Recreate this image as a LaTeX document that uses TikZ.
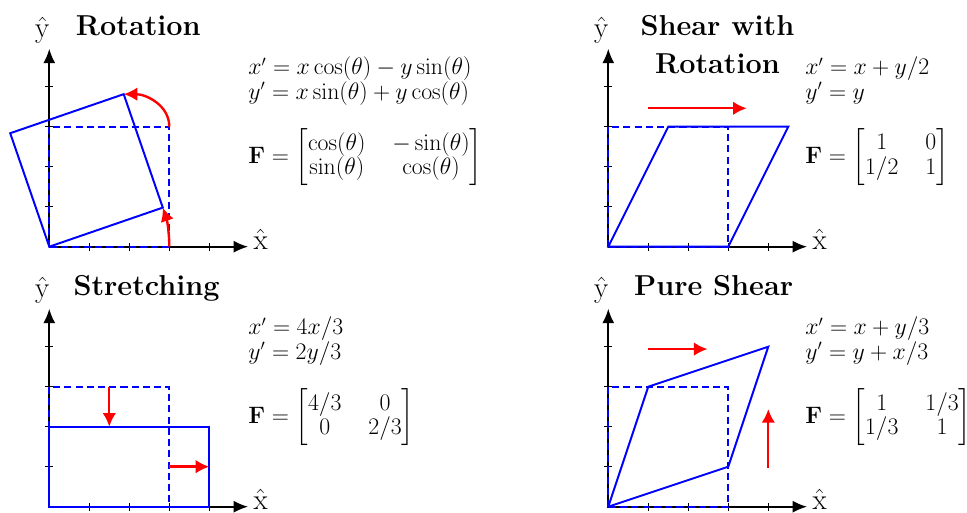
\documentclass[tikz,border=0pt]{standalone}
\usepackage{amsmath}
\usetikzlibrary{arrows.meta}
\tikzset{
  axisline/.style={line width=1.3pt, -{Latex[length=3.6mm,width=3mm]}},
  tickline/.style={line width=1.1pt},
  origsq/.style={blue, line width=1.4pt, dash pattern=on 5pt off 3pt},
  defsq/.style={blue, line width=1.4pt, line join=miter},
  motion/.style={red, line width=1.7pt, -{Latex[length=3.4mm,width=3.4mm]}},
  ttl/.style={font=\fontsize{20.5}{25}\bfseries\selectfont, inner sep=0pt, anchor=base west},
  ttlc/.style={font=\fontsize{20.5}{25}\bfseries\selectfont, inner sep=0pt, anchor=base},
  eqn/.style={font=\fontsize{16}{18}\selectfont, inner sep=0pt, anchor=base west},
  matn/.style={font=\fontsize{16}{17}\selectfont, inner sep=0pt, anchor=west},
  axlab/.style={font=\fontsize{20.5}{25}\selectfont, inner sep=0pt},
}
\newcommand{\shrk}[1]{\scalebox{0.978}{#1}}
\newcommand{\myaxes}[1]{%
  \draw[axisline] (0,0) -- (4.97,0);
  \draw[axisline] (0,0) -- (0,4.95);
  \foreach \t in {1,2,3,4} {
    \draw[tickline] (\t,-0.1) -- (\t,0.1);
    \draw[tickline] (-0.1,\t) -- (0.1,\t);
  }
  \node[axlab, anchor=base] (#1yl) at (-0.17,5.24) {$\hat{\mathrm{y}}$};
  \node[axlab, anchor=base west] (#1xl) at (5.1,-0.08) {$\hat{\mathrm{x}}$};
}
\begin{document}
\begin{tikzpicture}
\useasboundingbox (0,0) rectangle (24.175,12.825);

% ---------- Rotation ----------
\begin{scope}[shift={(1.2325,6.6575)}]
  \myaxes{a}
  \draw[origsq] (0,0) rectangle (3,3);
  \coordinate (aO) at (0,0);
  \coordinate (aA) at (2.837,0.977);
  \coordinate (aC) at (1.860,3.813);
  \coordinate (aB) at (-0.977,2.837);
  \draw[defsq] (aO) -- (aA) -- (aC) -- (aB) -- cycle;
  \draw[motion] (3,0) arc[start angle=0, end angle=19, radius=3];
  \coordinate (aD) at (3,3);
  \draw[motion] (aD) to[out=90, in=0] (aC);
  \node[ttl] (at) at (0.66,5.29) {Rotation};
  \node[eqn] (ae1) at (4.97,4.3) {\shrk{$x' = x\cos(\theta) - y\sin(\theta)$}};
  \node[eqn] (ae2) at (4.97,3.68) {\shrk{$y' = x\sin(\theta) + y\cos(\theta)$}};
  \node[matn] (am) at (4.97,2.24) {\shrk{\setlength{\arraycolsep}{9.8pt}$\mathbf{F} = \begin{bmatrix}\cos(\theta) & -\sin(\theta)\\ \sin(\theta) & \cos(\theta)\end{bmatrix}$}};
\end{scope}

% ---------- Shear with Rotation ----------
\begin{scope}[shift={(15.2075,6.6575)}]
  \myaxes{b}
  \draw[origsq] (0,0) rectangle (3,3);
  \coordinate (bO) at (0,0);
  \coordinate (bA) at (3,0);
  \coordinate (bC) at (4.5,3);
  \coordinate (bB) at (1.5,3);
  \draw[defsq] (bO) -- (bA) -- (bC) -- (bB) -- cycle;
  \coordinate (bs) at (1,3.46);
  \coordinate (be) at (3.46,3.46);
  \draw[motion] (bs) -- (be);
  \node[ttlc] (bt1) at (2.73,5.29) {Shear with};
  \node[ttlc] (bt2) at (2.73,4.335) {Rotation};
  \node[eqn] (be1) at (4.92,4.3) {\shrk{$x' = x + y/2$}};
  \node[eqn] (be2) at (4.92,3.68) {\shrk{$y' = y$}};
  \node[matn] (bm) at (4.92,2.24) {\shrk{\setlength{\arraycolsep}{9.8pt}$\mathbf{F} = \begin{bmatrix}1 & 0\\ 1/2 & 1\end{bmatrix}$}};
\end{scope}

% ---------- Stretching ----------
\begin{scope}[shift={(1.2325,0.1575)}]
  \myaxes{c}
  \draw[origsq] (0,0) rectangle (3,3);
  \draw[defsq] (0,0) rectangle (4,2);
  \coordinate (cs1) at (1.5,3);
  \coordinate (ce1) at (1.5,2);
  \draw[motion] (cs1) -- (ce1);
  \coordinate (cs2) at (3,1);
  \coordinate (ce2) at (4,1);
  \draw[motion] (cs2) -- (ce2);
  \node[ttl] (ct) at (0.6,5.29) {Stretching};
  \node[eqn] (ce1n) at (4.97,4.3) {\shrk{$x' = 4x/3$}};
  \node[eqn] (ce2n) at (4.97,3.68) {\shrk{$y' = 2y/3$}};
  \node[matn] (cm) at (4.97,2.24) {\shrk{\setlength{\arraycolsep}{9.8pt}$\mathbf{F} = \begin{bmatrix}4/3 & 0\\ 0 & 2/3\end{bmatrix}$}};
\end{scope}

% ---------- Pure Shear ----------
\begin{scope}[shift={(15.2075,0.1575)}]
  \myaxes{d}
  \draw[origsq] (0,0) rectangle (3,3);
  \coordinate (dO) at (0,0);
  \coordinate (dA) at (3,1);
  \coordinate (dC) at (4,4);
  \coordinate (dB) at (1,3);
  \draw[defsq] (dO) -- (dA) -- (dC) -- (dB) -- cycle;
  \coordinate (ds1) at (1,3.94);
  \coordinate (de1) at (2.48,3.94);
  \draw[motion] (ds1) -- (de1);
  \coordinate (ds2) at (4,0.96);
  \coordinate (de2) at (4,2.44);
  \draw[motion] (ds2) -- (de2);
  \node[ttl] (dt) at (0.64,5.29) {Pure Shear};
  \node[eqn] (de1n) at (4.92,4.3) {\shrk{$x' = x + y/3$}};
  \node[eqn] (de2n) at (4.92,3.68) {\shrk{$y' = y + x/3$}};
  \node[matn] (dm) at (4.92,2.24) {\shrk{\setlength{\arraycolsep}{9.8pt}$\mathbf{F} = \begin{bmatrix}1 & 1/3\\ 1/3 & 1\end{bmatrix}$}};
\end{scope}
\end{tikzpicture}
\end{document}
